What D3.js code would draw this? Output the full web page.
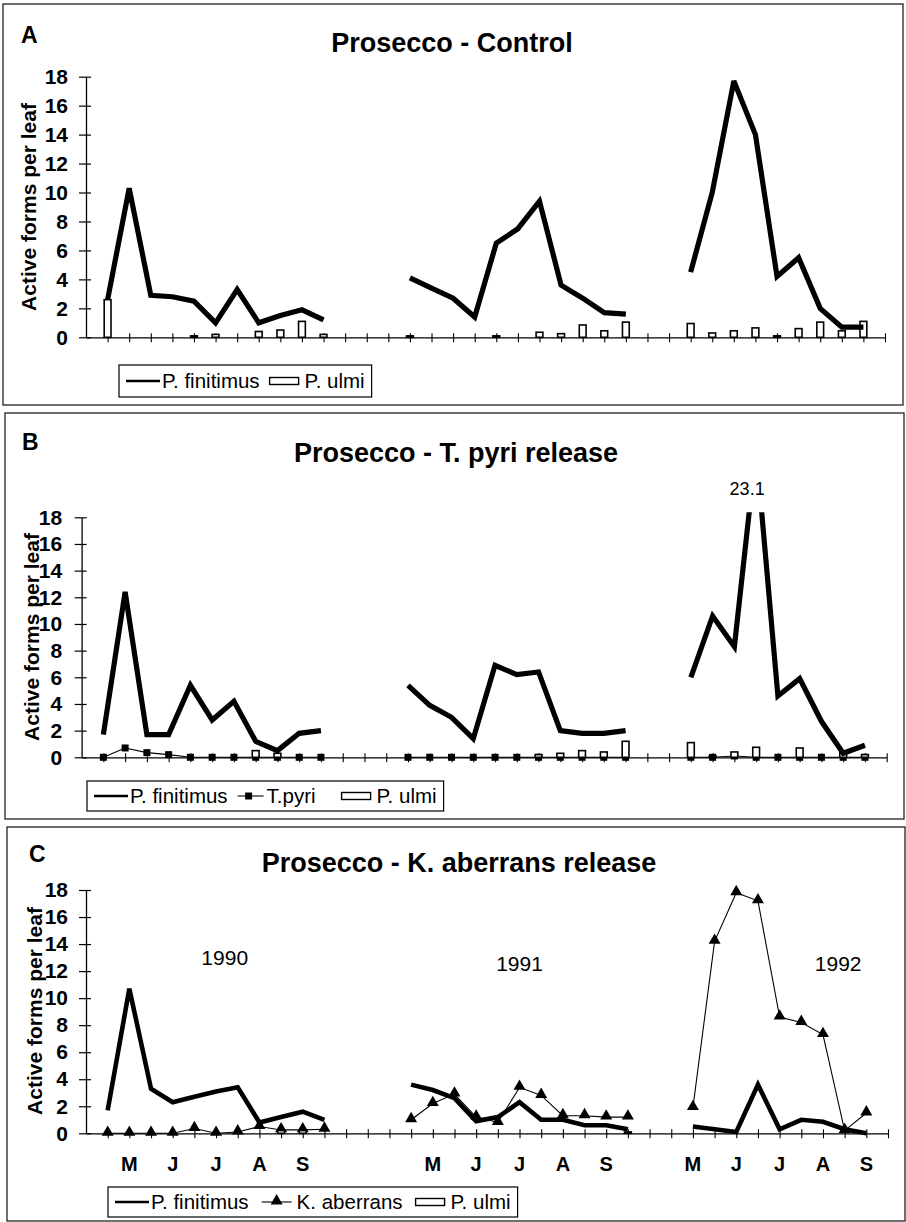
<!DOCTYPE html>
<html>
<head>
<meta charset="utf-8">
<script src="https://cdn.jsdelivr.net/npm/d3@7"></script>
<style>
  html, body { margin: 0; padding: 0; background: #fff; }
  svg { display: block; font-family: Arial, "Liberation Sans", sans-serif; }
</style>
</head>
<body>
<svg id="chart" width="906" height="1222"></svg>
<script>
// ---------------- DATA ----------------
const years = ["1990", "1991", "1992"];
const yearStartSlot = [1, 15, 28];          // category slot of first sampling date of each year
const slotCount = 37;                        // number of category slots on the x axis
const yTickValues = [0, 2, 4, 6, 8, 10, 12, 14, 16, 18];
const yMax = 18;
const monthLabels = ["M", "J", "J", "A", "S"];
const monthSlots = [[2, 4, 6, 8, 10], [16, 18, 20, 22, 24], [28, 30, 32, 34, 36]];
const panelLetters = ["A", "B", "C"];
const panelTitles = ["Prosecco - Control", "Prosecco - T. pyri release", "Prosecco - K. aberrans release"];
const nameFinitimus = "P. finitimus";
const namePyri = "T.pyri";
const nameAberrans = "K. aberrans";
const nameUlmi = "P. ulmi";

// Panel A - Control
const controlFinitimus = [
  [2.6, 10.3, 2.9, 2.8, 2.5, 1.0, 3.3, 1.0, 1.5, 1.9, 1.2],
  [4.1, 3.4, 2.7, 1.4, 6.5, 7.5, 9.4, 3.6, 2.7, 1.7, 1.6],
  [4.5, 10.0, 17.7, 14.0, 4.2, 5.5, 2.0, 0.7, 0.7]
];
const controlUlmi = [
  [2.6, 0, 0, 0, 0.1, 0.2, 0, 0.4, 0.5, 1.1, 0.2],
  [0.1, 0, 0, 0, 0.1, 0, 0.35, 0.25, 0.85, 0.45, 1.05],
  [0.95, 0.3, 0.45, 0.65, 0.1, 0.6, 1.05, 0.45, 1.1]
];

// Panel B - T. pyri release
const pyriFinitimus = [
  [1.7, 12.4, 1.7, 1.7, 5.4, 2.8, 4.2, 1.2, 0.5, 1.8, 2.0],
  [5.4, 3.9, 3.0, 1.4, 6.9, 6.2, 6.4, 2.0, 1.8, 1.8, 2.0],
  [6.0, 10.6, 8.3, 23.1, 4.6, 5.9, 2.7, 0.3, 0.9]
];
const pyriPyri = [
  [0, 0.7, 0.35, 0.2, 0, 0, 0, 0, 0, 0, 0],
  [0, 0, 0, 0, 0, 0, 0, 0, 0, 0, 0],
  [0, 0, 0.1, 0, 0, 0, 0, 0, 0]
];
const pyriUlmi = [
  [0, 0, 0, 0, 0, 0, 0, 0.5, 0.3, 0, 0],
  [0, 0, 0, 0, 0, 0, 0.2, 0.3, 0.5, 0.4, 1.2],
  [1.1, 0.1, 0.4, 0.75, 0, 0.7, 0, 0.35, 0.2]
];
const pyriPeakLabel = "23.1";

// Panel C - K. aberrans release
const kabFinitimus = [
  [1.7, 10.7, 3.3, 2.3, 2.7, 3.1, 3.4, 0.8, 1.2, 1.6, 1.0],
  [3.6, 3.2, 2.6, 0.9, 1.2, 2.3, 1.0, 1.0, 0.6, 0.6, 0.3],
  [0.5, 0.3, 0.1, 3.6, 0.3, 1.0, 0.85, 0.3, 0.0]
];
const kabAberrans = [
  [0, 0, 0, 0, 0.35, 0, 0.1, 0.5, 0.25, 0.25, 0.3],
  [1.0, 2.2, 2.9, 1.2, 0.8, 3.4, 2.8, 1.3, 1.3, 1.2, 1.2],
  [1.9, 14.2, 17.8, 17.2, 8.6, 8.2, 7.3, 0.2, 1.5]
];
const kabUlmi = [
  [0, 0, 0, 0, 0, 0, 0, 0, 0.2, 0.2, 0],
  [0, 0, 0, 0, 0, 0, 0, 0, 0, 0, 0.1],
  [0, 0, 0, 0, 0, 0, 0, 0, 0]
];

// ---------------- LAYOUT ----------------
const layouts = [
  { frame: [3, 4, 900, 401], letter: [21, 43], titleX: 452, titleY: 52,
    x0: 86, x1: 885, yB: 337.3, yT: 76.7, tickPad: 11,
    yTitleX: 35.5, yTitleY: 207, legend: { x: 119, y: 365, h: 32, gap: 10 } },
  { frame: [5, 413, 899, 406], letter: [22, 450], titleX: 456, titleY: 462,
    x0: 81.6, x1: 886.7, yB: 757.3, yT: 517.3, tickPad: 12.5,
    yTitleX: 38.5, yTitleY: 637, legend: { x: 87, y: 781, h: 30, gap: 10 } },
  { frame: [7, 827, 898, 394], letter: [29, 862], titleX: 459, titleY: 872,
    x0: 86, x1: 888, yB: 1133.3, yT: 890, tickPad: 11,
    yTitleX: 42, yTitleY: 1011, legend: { x: 108, y: 1187, h: 30, gap: 13 } }
];
const monthLabelDrop = 38;   // baseline distance of month labels below the x axis

const svg = d3.select("#chart");

function toYearPoints(yearly) {
  return yearly.map((vals, yi) => vals.map((v, i) => ({ slot: yearStartSlot[yi] + i, v })));
}

const triangle = d3.symbol().type(d3.symbolTriangle).size(62);

function drawPanel(pi, spec) {
  const L = layouts[pi];
  const g = svg.append("g");

  g.append("rect")
    .attr("x", L.frame[0]).attr("y", L.frame[1])
    .attr("width", L.frame[2]).attr("height", L.frame[3])
    .attr("fill", "none").attr("stroke", "#222").attr("stroke-width", 1.3);

  g.append("text").attr("x", L.letter[0]).attr("y", L.letter[1])
    .attr("font-size", 23).attr("font-weight", "bold").text(panelLetters[pi]);

  g.append("text").attr("x", L.titleX).attr("y", L.titleY)
    .attr("text-anchor", "middle").attr("font-size", 27).attr("font-weight", "bold")
    .text(panelTitles[pi]);

  const x = d3.scaleLinear().domain([0, slotCount]).range([L.x0, L.x1]);
  const y = d3.scaleLinear().domain([0, yMax]).range([L.yB, L.yT]);

  // y axis
  const ya = g.append("g").attr("transform", `translate(${L.x0},0)`)
    .call(d3.axisLeft(y).tickValues(yTickValues).tickSizeInner(7).tickSizeOuter(0).tickPadding(L.tickPad));
  ya.select(".domain").attr("stroke", "#000").attr("stroke-width", 1.3);
  ya.selectAll(".tick line").attr("stroke", "#000").attr("stroke-width", 1.2);
  ya.selectAll(".tick").append("line").attr("x2", 5).attr("stroke", "#000").attr("stroke-width", 1.2);
  ya.selectAll(".tick text").attr("font-size", 21).attr("font-weight", "bold").attr("fill", "#000")
    .attr("font-family", "Arial, 'Liberation Sans', sans-serif");

  // y title
  g.append("text")
    .attr("transform", `translate(${L.yTitleX},${L.yTitleY}) rotate(-90)`)
    .attr("text-anchor", "middle").attr("font-size", 21).attr("font-weight", "bold")
    .text("Active forms per leaf");

  // x axis
  const xa = g.append("g").attr("transform", `translate(0,${L.yB})`)
    .call(d3.axisBottom(x).tickValues(d3.range(1, slotCount + 1)).tickSizeInner(5).tickSizeOuter(0).tickFormat(""));
  xa.select(".domain").attr("stroke", "#000").attr("stroke-width", 1.3);
  xa.selectAll(".tick line").attr("stroke", "#000").attr("stroke-width", 1.1);
  xa.selectAll(".tick").append("line").attr("y2", -4).attr("stroke", "#000").attr("stroke-width", 1.1);

  // clip
  const clipId = "clip" + pi;
  svg.append("clipPath").attr("id", clipId).append("rect")
    .attr("x", L.x0 - 12).attr("y", y(yMax) - 5)
    .attr("width", L.x1 - L.x0 + 24).attr("height", L.yB - y(yMax) + 14);
  const plot = g.append("g").attr("clip-path", `url(#${clipId})`);

  const line = d3.line().x(d => x(d.slot)).y(d => y(d.v));

  // thin marker series
  if (spec.thin) {
    toYearPoints(spec.thin.data).forEach(pts => {
      plot.append("path").datum(pts).attr("d", line)
        .attr("fill", "none").attr("stroke", "#000").attr("stroke-width", 1.1);
      pts.forEach(p => {
        if (spec.thin.marker === "square") {
          plot.append("rect").attr("x", x(p.slot) - 3.5).attr("y", y(p.v) - 3.5)
            .attr("width", 7).attr("height", 7).attr("fill", "#000");
        } else {
          plot.append("path").attr("d", triangle)
            .attr("transform", `translate(${x(p.slot)},${y(p.v) - 1})`).attr("fill", "#000");
        }
      });
    });
  }

  // bars (P. ulmi)
  const barPts = toYearPoints(spec.bars).flat().filter(p => p.v > 0);
  plot.selectAll("rect.bar").data(barPts).enter().append("rect").attr("class", "bar")
    .attr("x", d => x(d.slot) - 3.4).attr("width", 6.8)
    .attr("y", d => y(d.v)).attr("height", d => y(0) - y(d.v))
    .attr("fill", "#fff").attr("stroke", "#000").attr("stroke-width", 1.6);

  // thick P. finitimus line
  toYearPoints(spec.thick).forEach(pts => {
    plot.append("path").datum(pts).attr("d", line)
      .attr("fill", "none").attr("stroke", "#000").attr("stroke-width", spec.thickWidth)
      .attr("stroke-linejoin", "miter").attr("stroke-miterlimit", 3);
  });

  if (spec.after) spec.after(g, x, y, L);

  drawLegend(g, L.legend, spec.legend);
}

function drawLegend(g, box, items) {
  const lg = g.append("g");
  const cy = box.y + box.h / 2;
  let cx = box.x + 7;
  items.forEach(it => {
    if (it.kind === "thick") {
      lg.append("line").attr("x1", cx).attr("x2", cx + 34).attr("y1", cy).attr("y2", cy)
        .attr("stroke", "#000").attr("stroke-width", 2.6);
      cx += 36;
    } else if (it.kind === "square") {
      lg.append("line").attr("x1", cx).attr("x2", cx + 26).attr("y1", cy).attr("y2", cy)
        .attr("stroke", "#000").attr("stroke-width", 1.1);
      lg.append("rect").attr("x", cx + 11 - 3.5).attr("y", cy - 3.5).attr("width", 7).attr("height", 7).attr("fill", "#000");
      cx += 29;
    } else if (it.kind === "triangle") {
      lg.append("line").attr("x1", cx).attr("x2", cx + 30).attr("y1", cy).attr("y2", cy)
        .attr("stroke", "#000").attr("stroke-width", 1.1);
      lg.append("path").attr("d", triangle).attr("transform", `translate(${cx + 15},${cy - 1})`).attr("fill", "#000");
      cx += 35;
    } else {
      lg.append("rect").attr("x", cx).attr("y", cy - 3.5).attr("width", 29).attr("height", 7)
        .attr("fill", "#fff").attr("stroke", "#000").attr("stroke-width", 1.4);
      cx += 35;
    }
    const t = lg.append("text").attr("x", cx).attr("y", cy).attr("dy", "0.36em")
      .attr("font-size", 20.5).text(it.label);
    cx += t.node().getComputedTextLength() + box.gap + (it.extraGap || 0);
  });
  lg.insert("rect", ":first-child").attr("x", box.x).attr("y", box.y)
    .attr("width", cx - box.gap + 7 - box.x).attr("height", box.h)
    .attr("fill", "#fff").attr("stroke", "#000").attr("stroke-width", 1.2);
}

// Panel A
drawPanel(0, {
  thick: controlFinitimus, thickWidth: 5.2, bars: controlUlmi,
  legend: [{ kind: "thick", label: nameFinitimus }, { kind: "bar", label: nameUlmi }]
});

// Panel B
drawPanel(1, {
  thick: pyriFinitimus, thickWidth: 5.2, bars: pyriUlmi,
  thin: { data: pyriPyri, marker: "square" },
  legend: [{ kind: "thick", label: nameFinitimus }, { kind: "square", label: namePyri, extraGap: 16 }, { kind: "bar", label: nameUlmi }],
  after: (g, x, y) => {
    // label for the clipped peak
    const yi = 2;
    const peakIdx = d3.maxIndex(pyriFinitimus[yi]);
    g.append("text").attr("x", x(yearStartSlot[yi] + peakIdx) - 9).attr("y", y(yMax) - 22)
      .attr("text-anchor", "middle").attr("font-size", 18).text(pyriPeakLabel);
  }
});

// Panel C
drawPanel(2, {
  thick: kabFinitimus, thickWidth: 4.6, bars: kabUlmi,
  thin: { data: kabAberrans, marker: "triangle" },
  legend: [{ kind: "thick", label: nameFinitimus }, { kind: "triangle", label: nameAberrans }, { kind: "bar", label: nameUlmi }],
  after: (g, x, y, L) => {
    // month labels
    const monthG = g.append("g").attr("transform", `translate(0,${L.yB + monthLabelDrop})`);
    monthSlots.forEach(slots => {
      slots.forEach((s, i) => {
        monthG.append("text").attr("x", x(s)).attr("y", 0)
          .attr("text-anchor", "middle").attr("font-size", 20).attr("font-weight", "bold")
          .text(monthLabels[i]);
      });
    });
    // year labels
    const yearPos = [[6.4, 12.45], [20, 12.03], [34.7, 12.03]];
    years.forEach((yr, i) => {
      g.append("text").attr("x", x(yearPos[i][0])).attr("y", y(yearPos[i][1]))
        .attr("text-anchor", "middle").attr("font-size", 21).text(yr);
    });
  }
});
</script>
</body>
</html>
